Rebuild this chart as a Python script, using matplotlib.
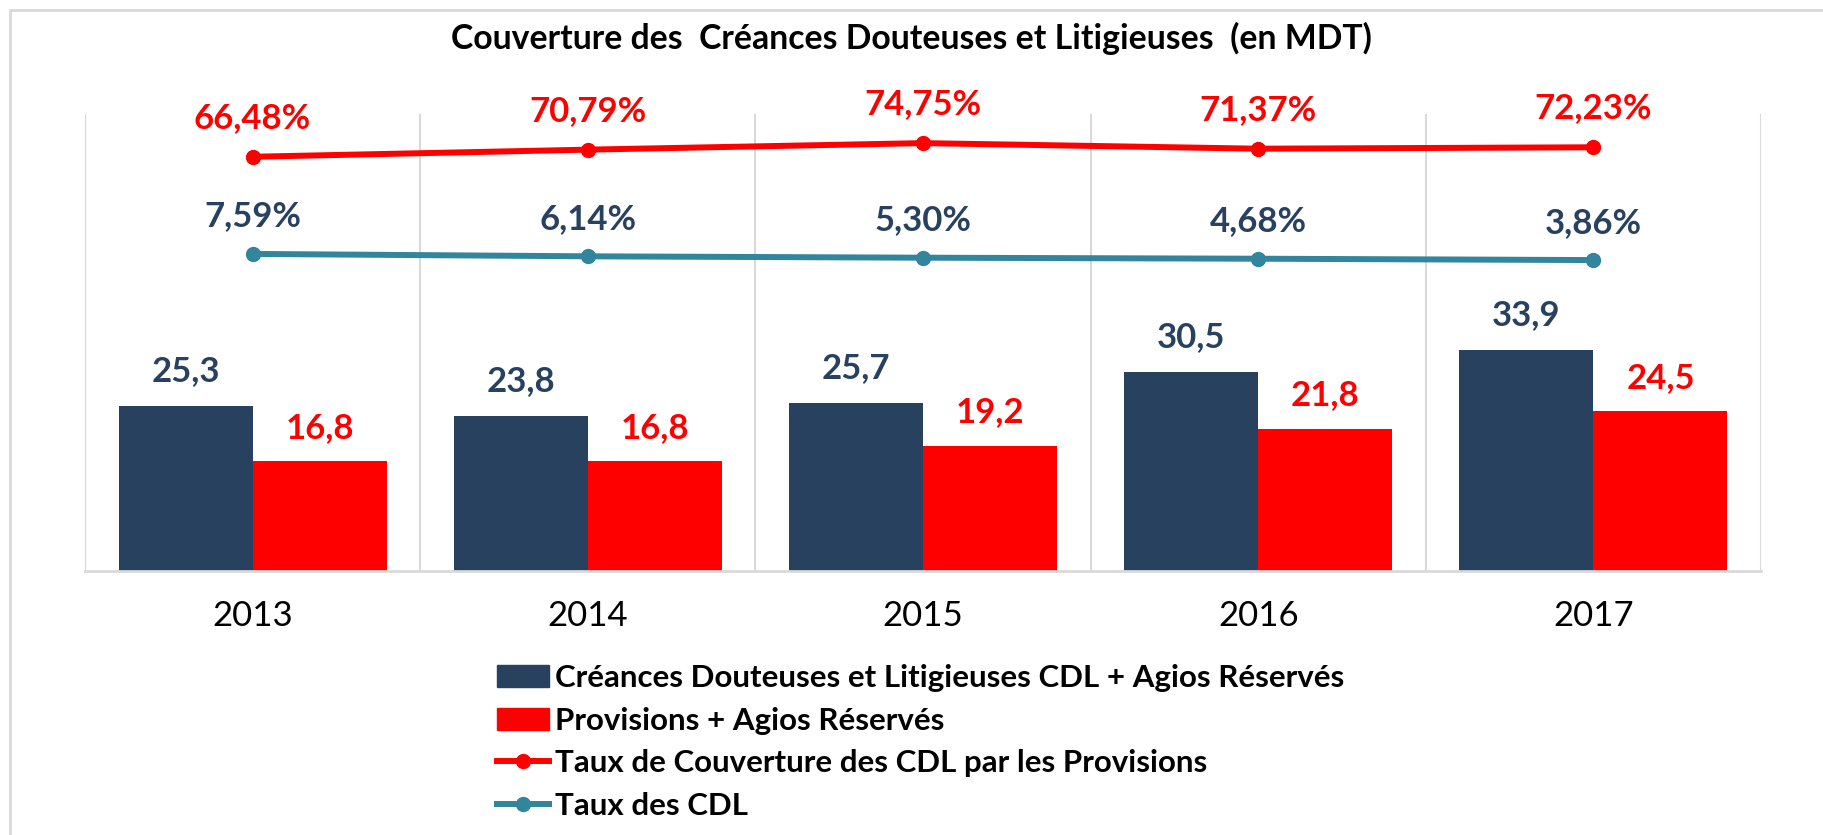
import matplotlib
matplotlib.use('Agg')
import matplotlib.pyplot as plt
from matplotlib.patches import Rectangle
from matplotlib.lines import Line2D
from matplotlib.patches import Patch

plt.rcParams['font.family'] = ['Lato', 'DejaVu Sans']

# données
annees = ['2013', '2014', '2015', '2016', '2017']
cdl = [25.3, 23.8, 25.7, 30.5, 33.9]
provisions = [16.8, 16.8, 19.2, 21.8, 24.5]
taux_couverture = [66.48, 70.79, 74.75, 71.37, 72.23]
taux_cdl = [7.59, 6.14, 5.30, 4.68, 3.86]

bleu = '#27415F'
rouge = '#FF0000'
turquoise = '#31859C'
gris = '#D9D9D9'

def fr(v, nd):
    return f'{v:.{nd}f}'.replace('.', ',')

fig = plt.figure(figsize=(18.23, 8.35), dpi=100)

# cadre du graphique
fig.patches.append(Rectangle((10/1823, -0.01), 1.0, 1 - 10/835 + 0.01,
                             transform=fig.transFigure, fill=False,
                             edgecolor='#D9D9D9', lw=2))

ax = fig.add_axes([85/1823, 1 - 571/835, (1761 - 85)/1823, (571 - 114)/835])
x = list(range(len(annees)))
w = 0.4
ax.bar([i - w/2 for i in x], cdl, w, color=bleu, zorder=2)
ax.bar([i + w/2 for i in x], provisions, w, color=rouge, zorder=2)
ax.set_ylim(0, 70)
ax.set_xlim(-0.5, len(annees) - 0.5)

for i in x:
    ax.annotate(fr(cdl[i], 1), (i - w/2, cdl[i]), xytext=(0, 25), textcoords='offset points',
                ha='center', va='center', fontsize=25, fontweight='bold', color=bleu)
    ax.annotate(fr(provisions[i], 1), (i + w/2, provisions[i]), xytext=(0, 24), textcoords='offset points',
                ha='center', va='center', fontsize=25, fontweight='bold', color=rouge)

for b in [k - 0.5 for k in range(len(annees) + 1)]:
    ax.axvline(b, color=gris, lw=1.5, zorder=1)

for s in ['top', 'left', 'right']:
    ax.spines[s].set_visible(False)
ax.spines['bottom'].set_color(gris)
ax.spines['bottom'].set_linewidth(2)
ax.set_yticks([])
ax.set_xticks(x)
ax.set_xticklabels(annees, fontsize=25)
ax.tick_params(axis='x', length=0, pad=21)

ax2 = ax.twinx()
ax2.set_ylim(-184.6, 92.4)
ax2.plot(x, taux_couverture, color=rouge, lw=4.3, marker='o', ms=10, zorder=3)
ax2.plot(x, taux_cdl, color=turquoise, lw=4.3, marker='o', ms=10, zorder=3)
for i in x:
    ax2.annotate(fr(taux_couverture[i], 2) + '%', (i, taux_couverture[i]), xytext=(0, 28),
                 textcoords='offset points', ha='center', va='center',
                 fontsize=25, fontweight='bold', color=rouge)
    ax2.annotate(fr(taux_cdl[i], 2) + '%', (i, taux_cdl[i]), xytext=(0, 27),
                 textcoords='offset points', ha='center', va='center',
                 fontsize=25, fontweight='bold', color=bleu)
ax2.set_yticks([])
for s in ax2.spines.values():
    s.set_visible(False)

fig.text(0.5, 1 - 38/835, 'Couverture des  Créances Douteuses et Litigieuses  (en MDT)',
         ha='center', va='center', fontsize=24.3, fontweight='bold')

handles = [
    Patch(color=bleu),
    Patch(color=rouge),
    Line2D([], [], color=rouge, lw=4.3, marker='o', ms=10),
    Line2D([], [], color=turquoise, lw=4.3, marker='o', ms=10),
]
labels = [
    'Créances Douteuses et Litigieuses CDL + Agios Réservés',
    'Provisions + Agios Réservés',
    'Taux de Couverture des CDL par les Provisions',
    'Taux des CDL',
]
fig.legend(handles, labels, loc='upper left', bbox_to_anchor=(497/1823, 1 - 664/835),
           frameon=False, prop={'size': 22.5, 'weight': 'bold'},
           handlelength=1.65, handleheight=0.7, handletextpad=0.2, labelspacing=0.47,
           borderpad=0, borderaxespad=0)

fig.savefig('out.png', dpi=100)
